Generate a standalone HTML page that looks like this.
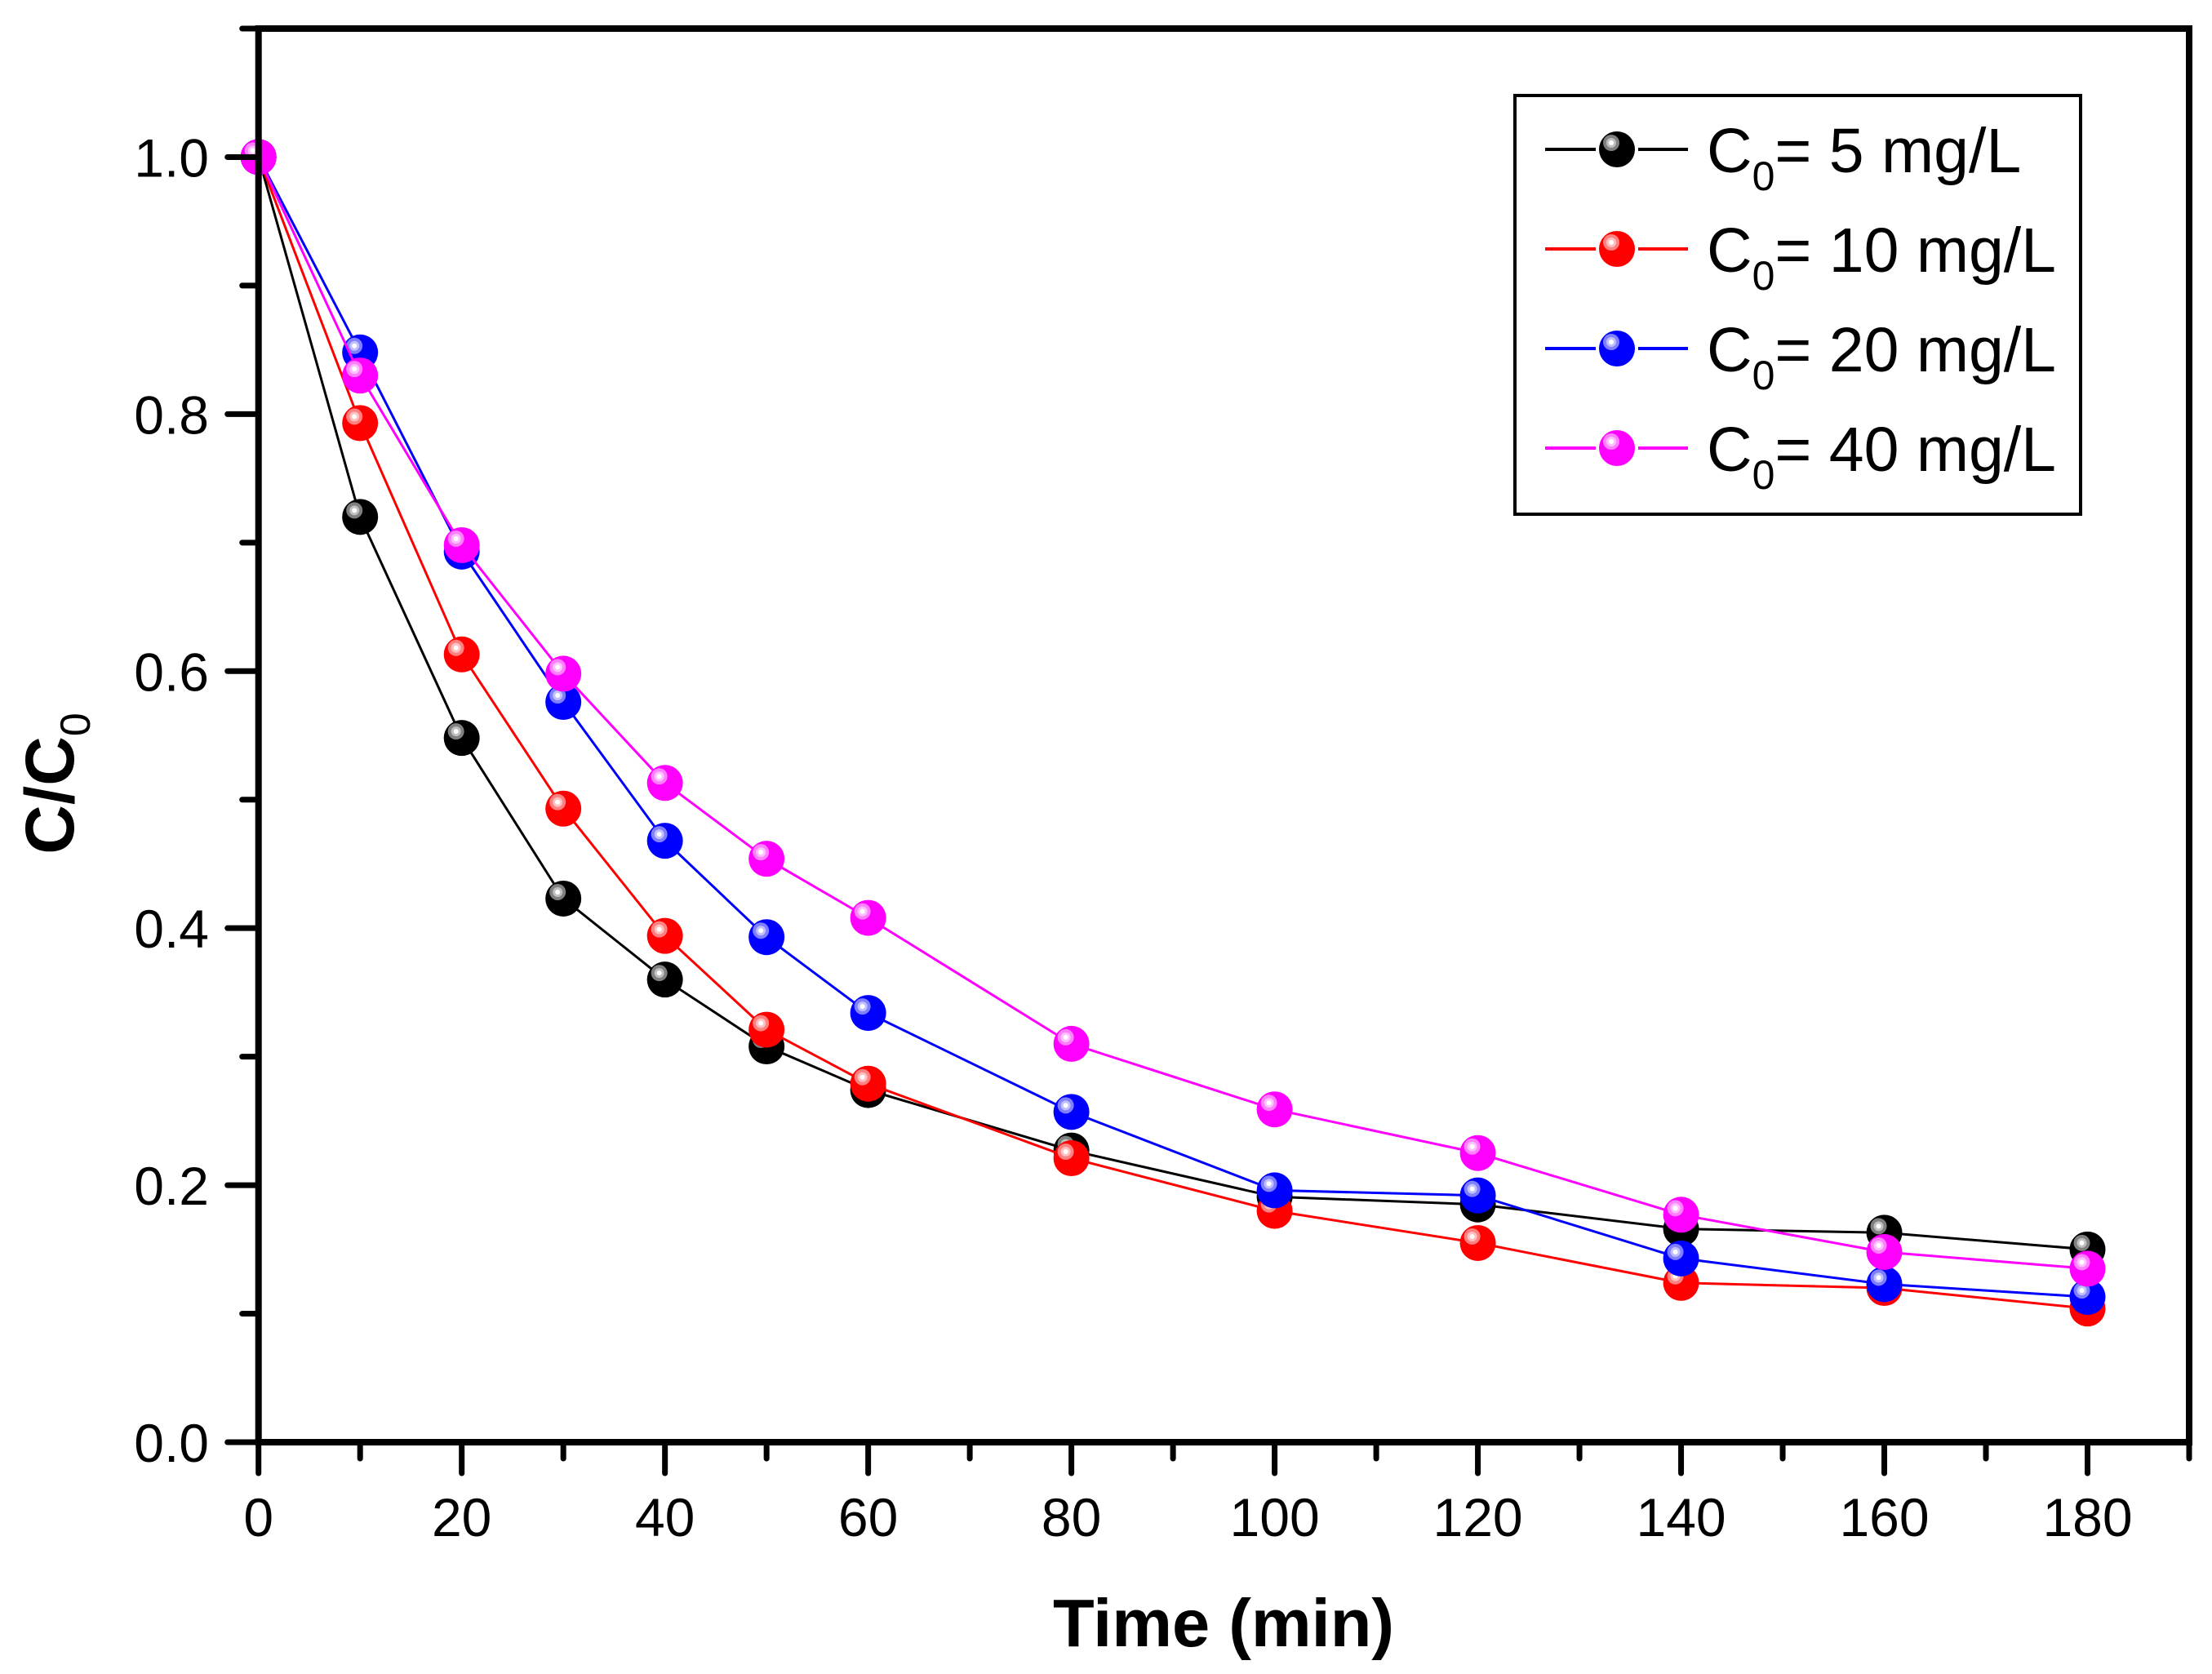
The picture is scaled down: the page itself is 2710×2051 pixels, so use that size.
<!DOCTYPE html>
<html><head><meta charset="utf-8"><style>
html,body{margin:0;padding:0;background:#fff;}
svg{display:block;font-family:"Liberation Sans",Arial,sans-serif;}
</style></head><body>
<svg id="chart" xmlns="http://www.w3.org/2000/svg" width="2710" height="2051" viewBox="0 0 2710 2051">
<rect width="2710" height="2051" fill="#fff"/>
<g id="series"></g>
<g id="axes"></g>
<g id="legend"></g>
</svg>
<script>
const times = [0,10,20,30,40,50,60,80,100,120,140,160,180];
const c5 = [1.0,0.720,0.548,0.423,0.360,0.308,0.274,0.227,0.191,0.185,0.166,0.163,0.150];
const c10 = [1.0,0.793,0.613,0.493,0.394,0.321,0.279,0.221,0.180,0.155,0.124,0.120,0.104];
const c20 = [1.0,0.848,0.693,0.576,0.468,0.393,0.334,0.257,0.196,0.192,0.143,0.123,0.113];
const c40 = [1.0,0.830,0.698,0.598,0.513,0.454,0.408,0.310,0.259,0.225,0.177,0.148,0.135];
const seriesLabels = ["5 mg/L","10 mg/L","20 mg/L","40 mg/L"];
const xTicks = [0,20,40,60,80,100,120,140,160,180];
const yTicks = ["0.0","0.2","0.4","0.6","0.8","1.0"];

const NS="http://www.w3.org/2000/svg";
const X0=316.7, X1=2682, Y0=1767, Y1=35;
const xMin=0,xMax=190,yMin=0,yMax=1.1;
function sx(v){return X0+(v-xMin)/(xMax-xMin)*(X1-X0);}
function sy(v){return Y0-(v-yMin)/(yMax-yMin)*(Y0-Y1);}
function mk(tag,attrs,parent){const e=document.createElementNS(NS,tag);for(const k in attrs)e.setAttribute(k,attrs[k]);parent.appendChild(e);return e;}

const colors=["#000000","#ff0000","#0000ff","#ff00ff"];
const hl1=["#808080","#ff8080","#8080ff","#ff80ff"];
const hl2=["#c0c0c0","#ffc0c0","#c0c0ff","#ffc0ff"];
const allSeries=[c5,c10,c20,c40];
const names=["series-5mgL","series-10mgL","series-20mgL","series-40mgL"];

function ball(parent,cx,cy,i,name){
  const g=mk('g',{},parent);
  
  
  mk('circle',{cx:cx,cy:cy,r:22,fill:colors[i]},g);
  mk('circle',{cx:cx-7,cy:cy-8,r:10,fill:hl1[i]},g);
  mk('circle',{cx:cx-7,cy:cy-8,r:6,fill:hl2[i]},g);
  mk('circle',{cx:cx-7,cy:cy-8,r:3,fill:"#fff"},g);
}

const sl=document.getElementById('series');
allSeries.forEach((vals,i)=>{
  const g=mk('g',{},sl);
  
  
  const pts=vals.map((v,j)=>sx(times[j]).toFixed(1)+","+sy(v).toFixed(1)).join(" ");
  const pl=mk('polyline',{points:pts,fill:"none",stroke:colors[i],"stroke-width":3},g);
  
  
  vals.forEach((v,j)=>ball(g,sx(times[j]),sy(v),i,'data-point'));
});

const ax=document.getElementById('axes');
const frame=mk('rect',{x:X0,y:Y1,width:X1-X0,height:Y0-Y1,fill:"none",stroke:"#000","stroke-width":8},ax);


for(let t=0;t<=190;t+=10){
  const major=(t%20===0);
  const tk=mk('line',{x1:sx(t),x2:sx(t),y1:Y0,y2:Y0+(major?38:20),stroke:"#000","stroke-width":7,"stroke-linecap":"round"},ax);
  
  
}
xTicks.forEach(t=>{
  const tx=mk('text',{x:sx(t),y:1882,"font-size":66,"text-anchor":"middle",fill:"#000"},ax);
  tx.textContent=String(t);
  
  
});
for(let k=0;k<=11;k++){
  const v=k/10;
  const major=(k%2===0);
  const tk=mk('line',{x1:X0,x2:X0-(major?38:20),y1:sy(v),y2:sy(v),stroke:"#000","stroke-width":7,"stroke-linecap":"round"},ax);
  
  
}
yTicks.forEach(s=>{
  const tx=mk('text',{x:256,y:sy(parseFloat(s))+24,"font-size":66,"text-anchor":"end",fill:"#000"},ax);
  tx.textContent=s;
  
  
});
const xt=mk('text',{x:1499,y:2017,"font-size":83,"font-weight":"bold","text-anchor":"middle",fill:"#000"},ax);
xt.textContent="Time (min)";


const yt=mk('text',{transform:"translate(90,960) rotate(-90)","font-size":84,"font-weight":"bold","text-anchor":"middle",fill:"#000"},ax);


yt.innerHTML='C/C<tspan font-size="52" font-weight="normal" dy="20">0</tspan>';

const lg=document.getElementById('legend');
const box=mk('rect',{x:1856,y:117,width:693,height:513,fill:"#fff",stroke:"#000","stroke-width":4},lg);


seriesLabels.forEach((lab,i)=>{
  const y=183+i*122;
  const g=mk('g',{},lg);
  
  
  mk('line',{x1:1893,x2:1955,y1:y,y2:y,stroke:colors[i],"stroke-width":4},g);
  mk('line',{x1:2007,x2:2068,y1:y,y2:y,stroke:colors[i],"stroke-width":4},g);
  ball(g,1981,y,i,'legend-marker');
  const t=mk('text',{x:2091,y:y+28,"font-size":77,fill:"#000"},g);
  
  
  t.innerHTML='C<tspan font-size="50" dy="22">0</tspan><tspan dy="-22">= '+lab+'</tspan>';
});
</script>
</body></html>
